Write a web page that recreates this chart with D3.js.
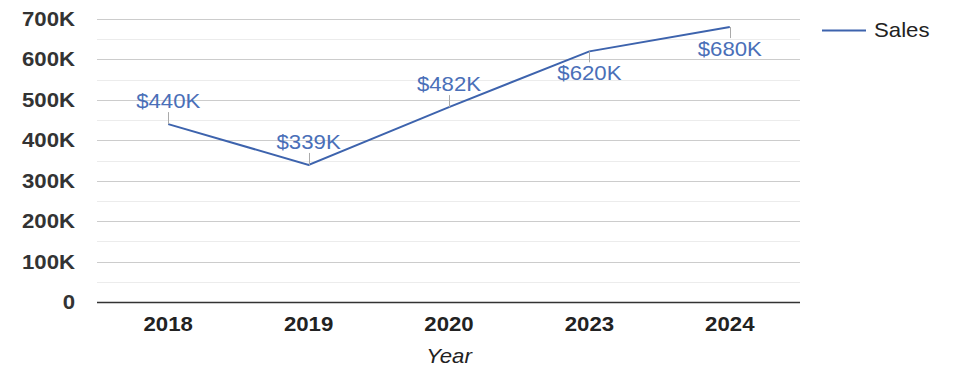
<!DOCTYPE html>
<html>
<head>
<meta charset="utf-8">
<script src="https://cdn.jsdelivr.net/npm/d3@7"></script>
<style>
  html, body { margin: 0; padding: 0; background: #fff; }
  svg { display: block; font-family: "Liberation Sans", Arial, sans-serif; }
</style>
</head>
<body>
<svg id="chart" width="975" height="378"></svg>
<script>
const categories = ["2018", "2019", "2020", "2023", "2024"];
const sales = [440, 339, 482, 620, 680]; // thousands of dollars
const labelSide = ["above", "above", "above", "below", "below"];
const yTickValues = [0, 100, 200, 300, 400, 500, 600, 700];
const yTickLabels = ["0", "100K", "200K", "300K", "400K", "500K", "600K", "700K"];
const minorTickValues = [50, 150, 250, 350, 450, 550, 650];
const seriesName = "Sales";
const xTitle = "Year";

(function () {
const svg = d3.select("#chart");
const mLeft = 98, mRight = 800, mTop = 19, mBottom = 302;
const SX = 1.11; // horizontal text stretch of the reference

const x = d3.scaleBand().domain(categories).range([mLeft, mRight]);
const cx = c => x(c) + x.bandwidth() / 2;
const y = d3.scaleLinear().domain([0, 700]).range([mBottom, mTop]);

function stretchText(sel) {
  sel.each(function() {
    const t = d3.select(this);
    const tx = +t.attr("data-x"), ty = +t.attr("data-y");
    t.attr("transform", `translate(${tx},${ty}) scale(${SX},1)`);
  });
}

// minor gridlines
svg.append("g").selectAll("line").data(minorTickValues).join("line")
  .attr("x1", mLeft - 1).attr("x2", mRight)
  .attr("y1", d => Math.round(y(d)) + 0.5).attr("y2", d => Math.round(y(d)) + 0.5)
  .attr("stroke", "#ececec").attr("stroke-width", 1);

// major gridlines
svg.append("g").selectAll("line").data(yTickValues.filter(d => d > 0)).join("line")
  .attr("x1", mLeft - 1).attr("x2", mRight)
  .attr("y1", d => Math.round(y(d)) + 0.5).attr("y2", d => Math.round(y(d)) + 0.5)
  .attr("stroke", "#cccccc").attr("stroke-width", 1);

// baseline
svg.append("line")
  .attr("x1", mLeft - 1).attr("x2", mRight)
  .attr("y1", Math.round(y(0)) + 0.5).attr("y2", Math.round(y(0)) + 0.5)
  .attr("stroke", "#333").attr("stroke-width", 1.3);

// y axis labels
svg.append("g").selectAll("text").data(yTickValues).join("text")
  .text((d, i) => yTickLabels[i])
  .attr("data-x", 75).attr("data-y", d => y(d) + 7)
  .attr("text-anchor", "end")
  .attr("font-size", 20).attr("font-weight", "bold").attr("fill", "#333")
  .call(stretchText);

// x axis labels
svg.append("g").selectAll("text").data(categories).join("text")
  .text(d => d)
  .attr("data-x", d => cx(d)).attr("data-y", 331)
  .attr("text-anchor", "middle")
  .attr("font-size", 20).attr("font-weight", "bold").attr("fill", "#222")
  .call(stretchText);

// x title
svg.append("text").text(xTitle)
  .attr("data-x", (mLeft + mRight) / 2).attr("data-y", 363)
  .attr("text-anchor", "middle")
  .attr("font-size", 20).attr("font-style", "italic").attr("fill", "#222")
  .call(stretchText);

// line
const pts = categories.map((c, i) => [cx(c), y(sales[i])]);
svg.append("path")
  .attr("d", d3.line()(pts))
  .attr("fill", "none").attr("stroke", "#3d63ad").attr("stroke-width", 2)
  .attr("stroke-linejoin", "miter");

// leader lines
svg.append("g").selectAll("line").data(categories).join("line")
  .attr("x1", d => Math.round(cx(d)) + 0.5).attr("x2", d => Math.round(cx(d)) + 0.5)
  .attr("y1", (d, i) => y(sales[i]))
  .attr("y2", (d, i) => labelSide[i] === "above" ? y(sales[i]) - 12 : y(sales[i]) + 11)
  .attr("stroke", "#aaa").attr("stroke-width", 1);

// data labels
svg.append("g").selectAll("text").data(categories).join("text")
  .text((d, i) => "$" + sales[i] + "K")
  .attr("data-x", d => cx(d))
  .attr("data-y", (d, i) => labelSide[i] === "above" ? y(sales[i]) - 16 : y(sales[i]) + 29)
  .attr("text-anchor", "middle")
  .attr("font-size", 20).attr("fill", "#4a6fb8")
  .call(stretchText);

// legend
svg.append("line").attr("x1", 822).attr("x2", 866).attr("y1", 30.5).attr("y2", 30.5)
  .attr("stroke", "#3d63ad").attr("stroke-width", 2);
svg.append("text").text(seriesName)
  .attr("data-x", 874).attr("data-y", 37)
  .attr("font-size", 20).attr("fill", "#222")
  .call(stretchText);
})();
</script>
</body>
</html>
